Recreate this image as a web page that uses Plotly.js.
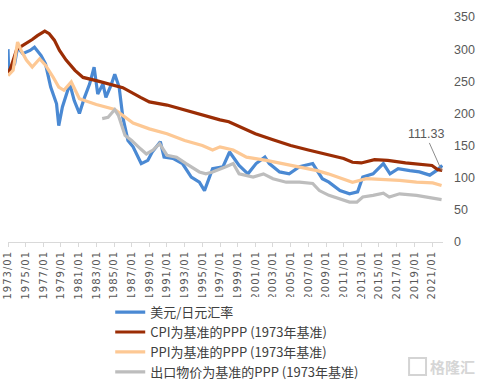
<!DOCTYPE html>
<html><head><meta charset="utf-8">
<script src="https://cdn.plot.ly/plotly-3.0.1.min.js"></script>
<style>html,body{margin:0;padding:0;background:#fff}#c{width:483px;height:385px}.xtick text{letter-spacing:1px}</style>
</head><body><div id="c"></div>
<script>
const names = ["美元/日元汇率","CPI为基准的PPP (1973年基准)","PPI为基准的PPP (1973年基准)","出口物价为基准的PPP (1973年基准)"];
const fxDates = ["1973-01","1973-02","1973-10","1974-02","1974-09","1975-07","1976-01","1976-10","1977-04","1977-11","1978-07","1978-10","1979-03","1980-01","1980-07","1981-02","1981-09","1982-04","1982-10","1983-03","1983-10","1984-02","1984-09","1985-02","1985-08","1986-01","1986-08","1987-03","1988-02","1988-11","1989-05","1990-04","1990-09","1991-09","1992-10","1993-10","1994-09","1995-04","1996-03","1997-05","1998-02","1998-07","1999-03","2000-03","2001-02","2002-02","2002-08","2003-10","2004-11","2006-01","2007-07","2008-08","2009-05","2010-08","2011-09","2012-08","2013-03","2014-05","2015-07","2016-04","2017-03","2018-07","2019-08","2020-10","2021-07","2022-03"];
const fxVals = [300,264,277,303,293,298,303,290,277,241,215,181,210,246,220,200,225,246,272,230,246,225,244,261,241,194,158,148,122,127,140,156,132,130,122,101,93,80,114,117,140,132,119,106,122,132,122,109,106,117,122,98.5,93,80,75,78,101,106,122,106,114,111,109,104,111,119];
const cpiDates = ["1973-01","1973-05","1974-01","1975-01","1975-10","1976-05","1977-03","1977-09","1978-04","1978-11","1979-08","1980-08","1981-07","1983-01","1985-01","1986-01","1988-01","1989-01","1991-01","1993-01","1995-01","1997-01","1998-01","2000-01","2001-01","2003-01","2005-01","2007-01","2009-01","2011-01","2012-01","2013-01","2014-07","2016-01","2018-01","2020-01","2021-01","2021-09","2022-03"];
const cpiVals = [262,272,300,308,315,321,328,324,314,298,283,267,256,251,244,240,225,218,213,205,197,190,187,174,168.5,159,150,143,137,130,124,123,128,127,123,121,119,112.5,111.33];
const ppiDates = ["1973-01","1973-08","1974-02","1974-07","1975-02","1975-10","1976-08","1977-04","1978-02","1978-10","1979-05","1980-03","1981-02","1983-01","1985-02","1986-01","1987-03","1989-01","1991-01","1993-01","1995-01","1996-03","1997-01","1998-07","2000-01","2002-04","2004-03","2006-01","2008-01","2009-04","2011-01","2012-01","2013-08","2015-07","2017-05","2019-04","2021-02","2022-02"];
const ppiVals = [259,267,311,298,283,272,285,275,257,241,236,249,223,214,206,197,185,176,168.5,158,150,143,148,143,132,127,122,117,111,106,98.5,93,98.5,97,96,93,92,88];
const expDates = ["1983-09","1984-05","1985-02","1985-07","1986-04","1987-01","1988-01","1988-09","1989-06","1990-03","1991-01","1992-02","1993-03","1994-09","1995-06","1996-03","1997-09","1998-07","1999-03","2000-10","2001-12","2003-01","2004-07","2006-01","2007-07","2008-04","2009-05","2010-08","2011-09","2012-07","2013-03","2014-05","2015-07","2016-03","2017-05","2019-04","2020-05","2022-02"];
const expVals = [192,194,206,197,166,158,145,137,143,153,135,132,122,109,106,109,117,122,106,101,106,98.5,93,93,91,80,72.6,67,62,62,70,72.6,76,70,75,72.6,70,66];
const yTicks = [0,50,100,150,200,250,300,350];
const xTickStart = "1973-01-01", xTickStep = "M24";
const endLabel = "111.33";

const colors = ["#4a89d3","#9b2d05","#fdc894","#bdbdbd"];
const sets = [[fxDates,fxVals],[cpiDates,cpiVals],[ppiDates,ppiVals],[expDates,expVals]];
const traces = sets.map((s,i)=>({x:s[0],y:s[1],name:names[i],type:"scatter",mode:"lines",
  line:{color:colors[i],width:3.2}}));

const layout = {
  width:483,height:385,margin:{l:8,r:40,t:17,b:143,autoexpand:false},
  paper_bgcolor:"#fff",plot_bgcolor:"#fff",
  font:{family:"Liberation Sans, Noto Sans CJK SC, sans-serif",color:"#595959"},
  showlegend:true,
  legend:{x:0.235,y:-0.245,xanchor:"left",yanchor:"top",tracegroupgap:0,
    font:{family:"Noto Sans CJK SC",size:13,color:"#404040"},itemwidth:30},
  xaxis:{type:"date",range:["1973-01-01","2022-04-01"],tick0:xTickStart,dtick:xTickStep,
    tickformat:"%Y/%m",tickangle:-90,ticks:"outside",ticklen:4,tickcolor:"#d9d9d9",
    showline:true,linecolor:"#d9d9d9",linewidth:1,showgrid:false,zeroline:false,
    tickfont:{size:10,color:"#595959",family:"DejaVu Sans"}},
  yaxis:{range:[0,350],side:"right",tickvals:yTicks,showgrid:false,zeroline:false,
    showline:false,ticks:"",ticklabelstandoff:10,
    tickfont:{size:12.5,color:"#595959",family:"Liberation Sans"}},
  shapes:[{type:"rect",xref:"paper",yref:"paper",x0:0.922,x1:0.961,y0:-0.516,y1:-0.591,
    line:{color:"#d4d4d4",width:2},fillcolor:"rgba(0,0,0,0)"}],
  annotations:[{x:"2022-02-01",y:111.33,xref:"x",yref:"y",text:endLabel,showarrow:true,
    arrowhead:0,arrowwidth:1,arrowcolor:"#8c8c8c",ax:-16,ay:-36,
    font:{size:12.5,color:"#595959",family:"Liberation Sans"}},
    {xref:"paper",yref:"paper",x:1.078,y:-0.553,xanchor:"right",yanchor:"middle",showarrow:false,
     text:"<b>格隆汇</b>",font:{size:15,color:"#d6d6d6",family:"Noto Sans CJK SC"}}]
};
Plotly.newPlot("c",traces,layout,{displayModeBar:false,staticPlot:true});
</script></body></html>
